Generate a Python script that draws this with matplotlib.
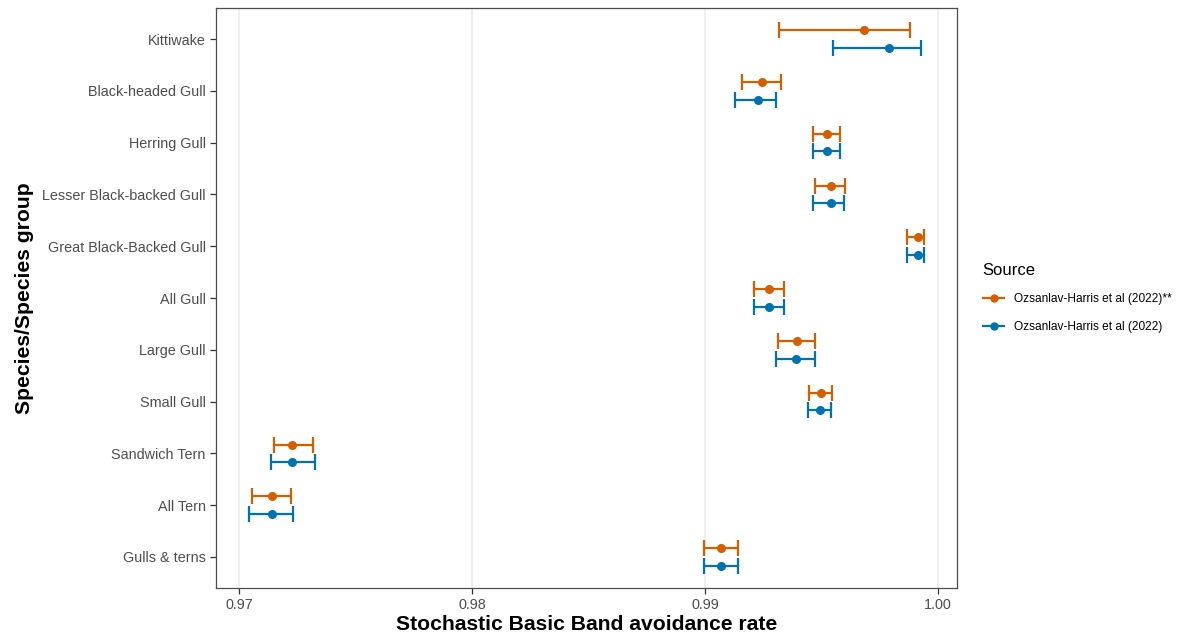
import numpy as np
import matplotlib.pyplot as plt
from matplotlib.lines import Line2D

plt.rcParams['font.family'] = ['Liberation Sans', 'DejaVu Sans']

# Species / groups, top to bottom
species = ["Kittiwake", "Black-headed Gull", "Herring Gull", "Lesser Black-backed Gull",
           "Great Black-Backed Gull", "All Gull", "Large Gull", "Small Gull",
           "Sandwich Tern", "All Tern", "Gulls & terns"]

# Ozsanlav-Harris et al (2022)** : mean, lower, upper
mean_a = [0.99684, 0.99243, 0.99522, 0.99540, 0.99913, 0.99276, 0.99395, 0.99498, 0.97229, 0.97140, 0.99067]
low_a = [0.99319, 0.99157, 0.99462, 0.99474, 0.99866, 0.99209, 0.99312, 0.99445, 0.97148, 0.97055, 0.98994]
high_a = [0.99882, 0.99328, 0.99579, 0.99603, 0.99940, 0.99339, 0.99471, 0.99544, 0.97318, 0.97225, 0.99142]

# Ozsanlav-Harris et al (2022)
mean_b = [0.99790, 0.99226, 0.99522, 0.99540, 0.99913, 0.99276, 0.99392, 0.99492, 0.97226, 0.97140, 0.99067]
low_b = [0.99548, 0.99130, 0.99462, 0.99465, 0.99866, 0.99209, 0.99306, 0.99441, 0.97137, 0.97043, 0.98994]
high_b = [0.99926, 0.99306, 0.99579, 0.99598, 0.99940, 0.99339, 0.99471, 0.99542, 0.97325, 0.97232, 0.99142]

labels = ["Ozsanlav-Harris et al (2022)**", "Ozsanlav-Harris et al (2022)"]
colors = ["#D55E00", "#0072B2"]

fig = plt.figure(figsize=(11.99, 6.37), dpi=100)
ax = fig.add_axes([216 / 1199, 1 - 588 / 637, (957 - 216) / 1199, (588 - 8) / 637])

n = len(species)
y = np.arange(n, 0, -1).astype(float)
dodge = 0.17

for means, lo, hi, col, off in [(mean_a, low_a, high_a, colors[0], dodge),
                                (mean_b, low_b, high_b, colors[1], -dodge)]:
    means = np.array(means)
    err = [means - np.array(lo), np.array(hi) - means]
    ax.errorbar(means, y + off, xerr=err, fmt='o', color=col, ms=5.5,
                elinewidth=1.6, capsize=6, capthick=1.6)

ax.set_xlim(0.96901, 1.00082)
ax.set_ylim(0.4, n + 0.6)
ax.set_xticks([0.97, 0.98, 0.99, 1.00])
ax.set_xticklabels(["0.97", "0.98", "0.99", "1.00"])
ax.set_yticks(y)
ax.set_yticklabels(species)

ax.grid(axis='x', color='#ebebeb', linewidth=1.1)
ax.set_axisbelow(True)
for s in ax.spines.values():
    s.set_color('#4d4d4d')
    s.set_linewidth(0.9)
ax.tick_params(colors='#333333', labelcolor='#4d4d4d', labelsize=10.4, length=4, width=0.9)

ax.set_xlabel("Stochastic Basic Band avoidance rate", fontsize=15.2, fontweight='bold', labelpad=2)
ax.set_ylabel("Species/Species group", fontsize=15.2, fontweight='bold', labelpad=6)

# legend keys: line with point, no caps
handles = [Line2D([], [], color=c, lw=1.6, marker='o', ms=5) for c in colors]
leg = fig.legend(handles, labels, title="Source", loc='upper left',
                 bbox_to_anchor=(972 / 1199, 1 - 252 / 637), frameon=False,
                 fontsize=8.6, title_fontsize=12, handlelength=1.8, handletextpad=0.85,
                 labelspacing=1.3)
leg._legend_box.align = 'left'

fig.savefig("out.png", dpi=100)
